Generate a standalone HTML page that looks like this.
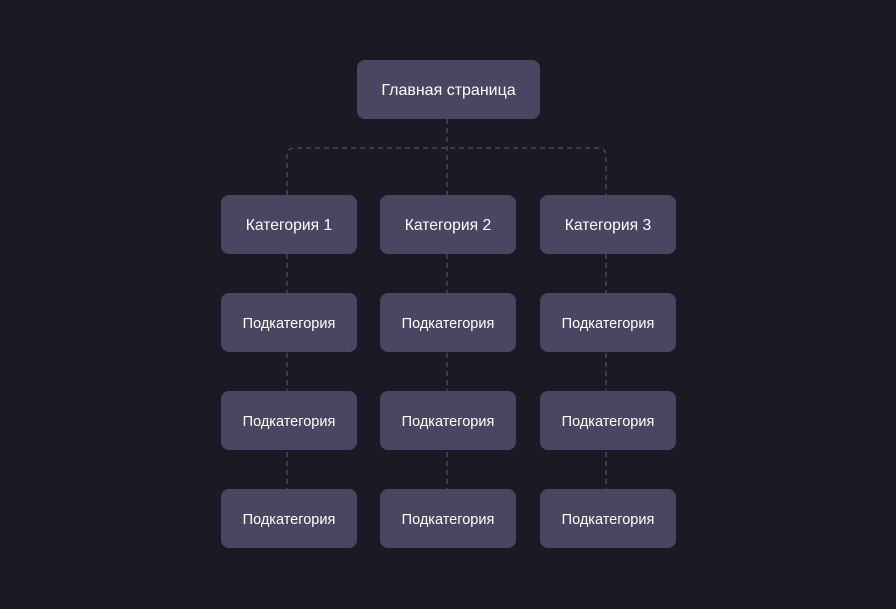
<!DOCTYPE html>
<html><head><meta charset="utf-8"><style>
body{margin:0;width:896px;height:609px;background:#1b1923;position:relative;overflow:hidden;font-family:"Liberation Sans","DejaVu Sans",sans-serif;}
.b{position:absolute;background:#4a4560;border-radius:8px;color:#fff;display:flex;align-items:center;justify-content:center;height:57px;padding-top:2px;width:136px;font-size:14.5px;}
.c{font-size:15.7px}
svg{position:absolute;left:0;top:0}
</style></head><body>
<svg width="896" height="609"><g fill="none" stroke="#4a4560" stroke-width="1.5" stroke-dasharray="5,4">
<path d="M447 119V195"/>
<path d="M287 195V156Q287 148 295 148H598Q606 148 606 156V195"/>
<path d="M287 254V489M447 254V489M606 254V489"/>
</g></svg>
<div class="b c" style="left:357px;top:60px;width:183px;font-size:16px">Главная страница</div>
<div class="b c" style="left:221px;top:195px">Категория 1</div>
<div class="b c" style="left:380px;top:195px">Категория 2</div>
<div class="b c" style="left:540px;top:195px">Категория 3</div>
<div class="b" style="left:221px;top:293px">Подкатегория</div>
<div class="b" style="left:380px;top:293px">Подкатегория</div>
<div class="b" style="left:540px;top:293px">Подкатегория</div>
<div class="b" style="left:221px;top:391px">Подкатегория</div>
<div class="b" style="left:380px;top:391px">Подкатегория</div>
<div class="b" style="left:540px;top:391px">Подкатегория</div>
<div class="b" style="left:221px;top:489px">Подкатегория</div>
<div class="b" style="left:380px;top:489px">Подкатегория</div>
<div class="b" style="left:540px;top:489px">Подкатегория</div>
</body></html>
